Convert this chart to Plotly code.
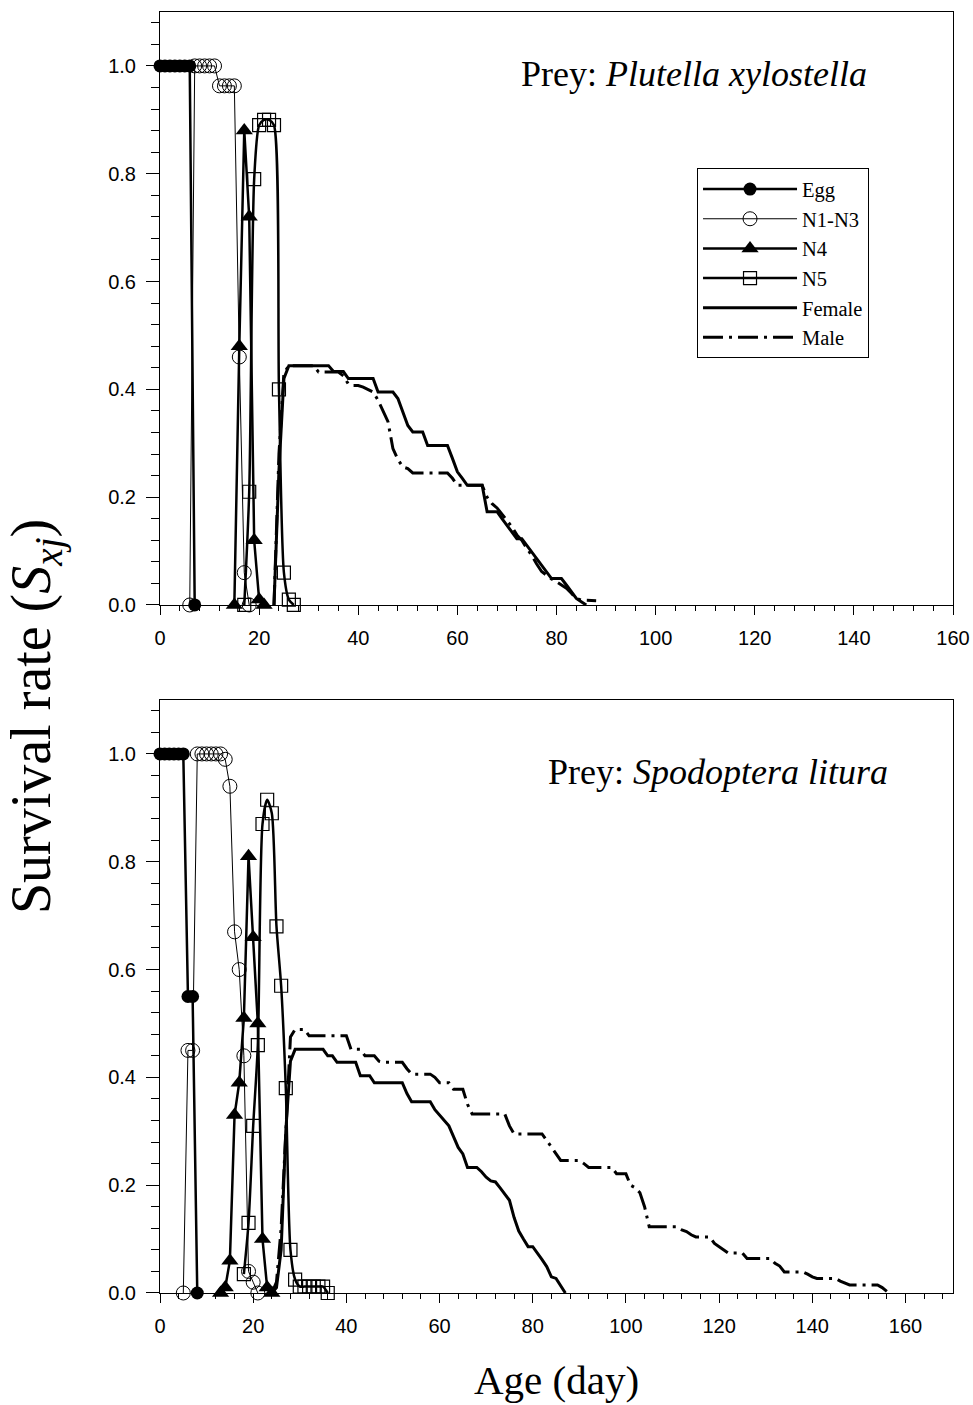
import plotly.graph_objects as go

# ---------------- Prey: Plutella xylostella (top panel) ----------------
px_egg_day = [0, 1, 2, 3, 4, 5, 6, 7]
px_egg = [1.0, 1.0, 1.0, 1.0, 1.0, 1.0, 1.0, 0.0]

px_n13_day = [6, 7, 8, 9, 10, 11, 12, 13, 14, 15, 16, 17, 18]
px_n13 = [0.0, 1.0, 1.0, 1.0, 1.0, 1.0, 0.963, 0.963, 0.963, 0.963, 0.46, 0.06, 0.0]

px_n4_day = [15, 16, 17, 18, 19, 20, 21]
px_n4 = [0.0, 0.48, 0.88, 0.72, 0.12, 0.01, 0.0]

px_n5_day = [17, 18, 19, 20, 21, 22, 23, 24, 25, 26, 27]
px_n5 = [0.0, 0.21, 0.79, 0.89, 0.90, 0.90, 0.89, 0.40, 0.06, 0.01, 0.0]

px_female_day = list(range(23, 87))
px_female = [0.0, 0.25, 0.42, 0.444, 0.444, 0.444, 0.444, 0.444, 0.444, 0.444,
             0.444, 0.444, 0.433, 0.433, 0.433, 0.42, 0.42, 0.42, 0.42, 0.42,
             0.42, 0.395, 0.395, 0.395, 0.395, 0.383, 0.358, 0.333, 0.321, 0.321,
             0.321, 0.296, 0.296, 0.296, 0.296, 0.296, 0.272, 0.247, 0.235, 0.222,
             0.222, 0.222, 0.222, 0.173, 0.173, 0.173, 0.160, 0.148, 0.136, 0.123,
             0.123, 0.111, 0.099, 0.086, 0.074, 0.062, 0.049, 0.049, 0.049, 0.037,
             0.025, 0.012, 0.006, 0.0]

px_male_day = list(range(23, 89))
px_male = [0.0, 0.28, 0.43, 0.444, 0.444, 0.444, 0.444, 0.444, 0.444, 0.432,
           0.432, 0.432, 0.432, 0.432, 0.425, 0.41, 0.407, 0.407, 0.404, 0.40,
           0.395, 0.38, 0.361, 0.34, 0.29, 0.27, 0.256, 0.253, 0.245, 0.245,
           0.245, 0.245, 0.245, 0.245, 0.245, 0.245, 0.235, 0.222, 0.222, 0.222,
           0.222, 0.222, 0.222, 0.20, 0.188, 0.18, 0.168, 0.158, 0.145, 0.13,
           0.12, 0.105, 0.092, 0.076, 0.062, 0.055, 0.048, 0.043, 0.037, 0.031,
           0.022, 0.012, 0.009, 0.009, 0.009, 0.008]

# ---------------- Prey: Spodoptera litura (bottom panel) ----------------
sl_egg_day = [0, 1, 2, 3, 4, 5, 6, 7, 8]
sl_egg = [1.0, 1.0, 1.0, 1.0, 1.0, 1.0, 0.55, 0.55, 0.0]

sl_n13_day = [5, 6, 7, 8, 9, 10, 11, 12, 13, 14, 15, 16, 17, 18, 19, 20, 21]
sl_n13 = [0.0, 0.45, 0.45, 1.0, 1.0, 1.0, 1.0, 1.0, 1.0, 0.99, 0.94, 0.67, 0.60,
          0.44, 0.04, 0.02, 0.0]

sl_n4_day = [13, 14, 15, 16, 17, 18, 19, 20, 21, 22, 23, 24]
sl_n4 = [0.0, 0.01, 0.06, 0.33, 0.39, 0.51, 0.81, 0.66, 0.50, 0.10, 0.01, 0.0]

sl_n5_day = [18, 19, 20, 21, 22, 23, 24, 25, 26, 27, 28, 29, 30, 31, 32, 33, 34, 35, 36]
sl_n5 = [0.035, 0.13, 0.31, 0.46, 0.87, 0.915, 0.89, 0.68, 0.57, 0.38, 0.08, 0.025,
         0.012, 0.012, 0.012, 0.012, 0.012, 0.012, 0.0]

sl_female_day = list(range(24, 88))
sl_female = [0.0, 0.01, 0.08, 0.30, 0.43, 0.452, 0.452, 0.452, 0.452, 0.452,
             0.452, 0.452, 0.44, 0.44, 0.428, 0.428, 0.428, 0.428, 0.428, 0.403,
             0.403, 0.403, 0.39, 0.39, 0.39, 0.39, 0.39, 0.39, 0.39, 0.37,
             0.355, 0.355, 0.355, 0.355, 0.355, 0.34, 0.33, 0.32, 0.31, 0.29,
             0.27, 0.258, 0.233, 0.233, 0.233, 0.225, 0.215, 0.208, 0.206, 0.195,
             0.183, 0.172, 0.14, 0.115, 0.10, 0.086, 0.086, 0.075, 0.062, 0.049,
             0.03, 0.027, 0.013, 0.0]

sl_male_day = list(range(24, 157))
sl_male = [0.0, 0.02, 0.12, 0.30, 0.475, 0.489, 0.489, 0.489, 0.477, 0.477,
           0.477, 0.477, 0.477, 0.477, 0.477, 0.477, 0.477, 0.452, 0.452, 0.452,
           0.44, 0.44, 0.44, 0.43, 0.428, 0.428, 0.428, 0.428, 0.428, 0.416,
           0.406, 0.406, 0.406, 0.406, 0.406, 0.40, 0.39, 0.39, 0.39, 0.378,
           0.378, 0.378, 0.35, 0.332, 0.332, 0.332, 0.332, 0.332, 0.332, 0.332,
           0.332, 0.31, 0.295, 0.295, 0.295, 0.295, 0.295, 0.295, 0.295, 0.283,
           0.27, 0.258, 0.246, 0.246, 0.246, 0.246, 0.246, 0.24, 0.233, 0.233,
           0.233, 0.233, 0.233, 0.233, 0.221, 0.221, 0.221, 0.20, 0.195, 0.186,
           0.16, 0.123, 0.123, 0.123, 0.123, 0.123, 0.123, 0.123, 0.117, 0.114,
           0.108, 0.104, 0.104, 0.104, 0.104, 0.092, 0.086, 0.08, 0.074, 0.074,
           0.074, 0.074, 0.064, 0.064, 0.064, 0.064, 0.064, 0.064, 0.055, 0.05,
           0.039, 0.039, 0.039, 0.039, 0.039, 0.035, 0.03, 0.027, 0.027, 0.027,
           0.027, 0.027, 0.022, 0.018, 0.015, 0.015, 0.015, 0.015, 0.015, 0.015,
           0.015, 0.01, 0.003]

stage_names = ["Egg", "N1-N3", "N4", "N5", "Female", "Male"]

SERIF = "Liberation Serif, Times New Roman, serif"
SANS = "Liberation Sans, Arial, sans-serif"

styles = {
    "Egg": dict(mode="lines+markers", line=dict(color="black", width=2.5),
                marker=dict(symbol="circle", size=13, color="black")),
    "N1-N3": dict(mode="lines+markers", line=dict(color="black", width=1),
                  marker=dict(symbol="circle-open", size=14, color="black",
                              line=dict(width=1, color="black"))),
    "N4": dict(mode="lines+markers", line=dict(color="black", width=2.5),
               marker=dict(symbol="triangle-up", size=15, color="black")),
    "N5": dict(mode="lines+markers", line=dict(color="black", width=2.5, shape="spline", smoothing=0.7),
               marker=dict(symbol="square-open", size=13, color="black",
                           line=dict(width=1.2, color="black"))),
    "Female": dict(mode="lines", line=dict(color="black", width=3)),
    "Male": dict(mode="lines", line=dict(color="black", width=3, dash="20px,6px,3px,6px")),
}

panels = [
    ("x", "y", True, [(px_egg_day, px_egg), (px_n13_day, px_n13), (px_n4_day, px_n4),
                      (px_n5_day, px_n5), (px_female_day, px_female), (px_male_day, px_male)]),
    ("x2", "y2", False, [(sl_egg_day, sl_egg), (sl_n13_day, sl_n13), (sl_n4_day, sl_n4),
                         (sl_n5_day, sl_n5), (sl_female_day, sl_female), (sl_male_day, sl_male)]),
]

fig = go.Figure()
for xa, ya, show, series in panels:
    for name, (d, v) in zip(stage_names, series):
        fig.add_trace(go.Scatter(x=d, y=v, name=name, xaxis=xa, yaxis=ya,
                                 showlegend=show, legendgroup=name,
                                 cliponaxis=False, **styles[name]))

tickfont = dict(family=SANS, size=20, color="black")
xcommon = dict(showline=True, linecolor="black", linewidth=1, mirror=True,
               ticks="outside", ticklen=9, tickwidth=1, tickcolor="black",
               tick0=0, dtick=20, showgrid=False, zeroline=False, tickfont=tickfont,
               ticklabelstandoff=6, automargin=False,
               minor=dict(ticks="outside", dtick=4, ticklen=5, tickcolor="black", showgrid=False))
ycommon = dict(showline=True, linecolor="black", linewidth=1, mirror=True,
               ticks="outside", ticklen=13, tickwidth=1, tickcolor="black",
               range=[0, 1.1], tick0=0, dtick=0.2, tickformat=".1f",
               showgrid=False, zeroline=False, tickfont=tickfont, ticklabelstandoff=6,
               automargin=False,
               minor=dict(ticks="outside", dtick=0.04, ticklen=8, tickcolor="black", showgrid=False))

fig.update_layout(
    width=973, height=1405, autosize=False,
    margin=dict(l=160, r=20, t=12, b=112, autoexpand=False),
    paper_bgcolor="white", plot_bgcolor="white",
    xaxis=dict(domain=[0, 1], anchor="y", range=[0, 160], **xcommon),
    yaxis=dict(domain=[0.5371, 1.0], anchor="x", **ycommon),
    xaxis2=dict(domain=[0, 1], anchor="y2", range=[0, 170.2], **xcommon),
    yaxis2=dict(domain=[0.0, 0.4629], anchor="x2", **ycommon),
    legend=dict(x=0.6772, y=0.878, xanchor="left", yanchor="top",
                bgcolor="white", bordercolor="black", borderwidth=1,
                font=dict(family=SERIF, size=20.5, color="black"),
                tracegroupgap=0, itemwidth=94),
    annotations=[
        dict(text="Prey: <i>Plutella xylostella</i>", xref="x", yref="y",
             x=143, y=0.985, xanchor="right", yanchor="middle", showarrow=False,
             font=dict(family=SERIF, size=36, color="black")),
        dict(text="Prey: <i>Spodoptera litura</i>", xref="x2", yref="y2",
             x=156.6, y=0.967, xanchor="right", yanchor="middle", showarrow=False,
             font=dict(family=SERIF, size=36, color="black")),
        dict(text="Survival rate (<i>S<sub>xj</sub></i>)", xref="paper", yref="paper",
             x=-0.1576, y=0.4496, xanchor="center", yanchor="middle", textangle=-90,
             showarrow=False, font=dict(family=SERIF, size=56, color="black")),
        dict(text="Age (day)", xref="paper", yref="paper",
             x=0.5006, y=-0.0679, xanchor="center", yanchor="middle",
             showarrow=False, font=dict(family=SERIF, size=41, color="black")),
    ],
)

fig.write_html("out.html",
               config={"displayModeBar": False, "responsive": False},
               default_width="973px", default_height="1405px",
               post_script="document.body.style.margin='0px';")
